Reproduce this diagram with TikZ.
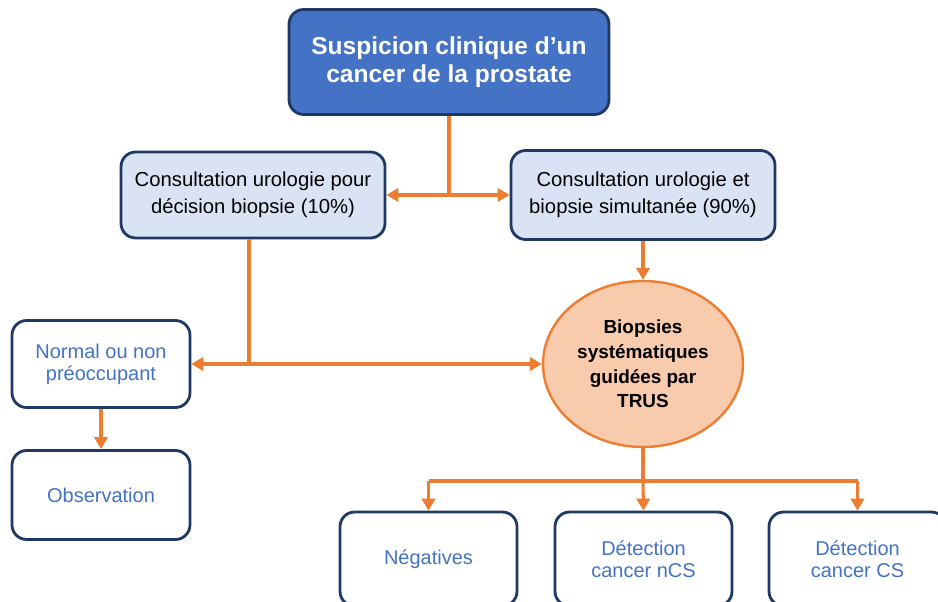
\documentclass[tikz,border=0pt]{standalone}
\usepackage{fontspec}
\setmainfont{Liberation Sans}
\usetikzlibrary{arrows.meta,shapes.geometric}
\definecolor{navy}{HTML}{1F3864}
\definecolor{topblue}{HTML}{4472C4}
\definecolor{lightblue}{HTML}{DAE3F3}
\definecolor{peach}{HTML}{F8CBAD}
\definecolor{orng}{HTML}{ED7D31}
\definecolor{txtblue}{HTML}{4472C4}
\tikzset{
  box/.style={draw=navy, line width=2.1pt, rounded corners=11pt, align=center, inner sep=0pt},
  topbox/.style={box, fill=topblue, text=white, font=\fontsize{18.4}{20.5}\selectfont\bfseries},
  consult/.style={box, fill=lightblue, text=black, font=\fontsize{15.2}{20}\selectfont},
  outbox/.style={box, fill=white, text=txtblue, font=\fontsize{15}{16.5}\selectfont},
  oval/.style={ellipse, draw=orng, line width=1.8pt, fill=peach, align=center, inner sep=0pt,
    font=\fontsize{14.2}{18.5}\selectfont\bfseries},
  conn/.style={draw=orng, line width=2.3pt},
  arr/.style={conn, -{Triangle[length=9pt,width=10pt]}},
}
\begin{document}
\begin{tikzpicture}[x=0.75pt,y=-0.75pt]
\useasboundingbox (0,0) rectangle (938,602);
\clip (0,0) rectangle (938,602);
\node[topbox, minimum width=320*0.75pt, minimum height=105*0.75pt] (top) at (449,62)
  {Suspicion clinique d’un\\cancer de la prostate};
\node[consult, minimum width=264*0.75pt, minimum height=86*0.75pt] (lc) at (253,195)
  {Consultation urologie pour\\décision biopsie (10\%)};
\node[consult, minimum width=264*0.75pt, minimum height=89*0.75pt] (rc) at (643,195)
  {Consultation urologie et\\biopsie simultanée (90\%)};
\node[oval, minimum width=200*0.75pt, minimum height=166*0.75pt] (bio) at (643,364)
  {Biopsies\\systématiques\\guidées par\\TRUS};
\node[outbox, minimum width=178*0.75pt, minimum height=87*0.75pt] (norm) at (101,364)
  {Normal ou non\\préoccupant};
\node[outbox, minimum width=178*0.75pt, minimum height=89*0.75pt] (obs) at (101,495)
  {Observation};
\node[outbox, minimum width=177*0.75pt, minimum height=94*0.75pt] (neg) at (428.5,559)
  {Négatives};
\node[outbox, minimum width=177*0.75pt, minimum height=94*0.75pt] (ncs) at (643.5,559)
  {Détection\\cancer nCS};
\node[outbox, minimum width=177*0.75pt, minimum height=94*0.75pt] (cs) at (857.5,559)
  {Détection\\cancer CS};
% connectors
\coordinate (j1) at (top.south |- lc.east);
\draw[conn] (top.south) -- (j1);
\draw[arr] (j1) -- (lc.east);
\draw[arr] (j1) -- (rc.west);
\draw[arr] (rc.south) -- (bio.north);
\coordinate (j2) at ([xshift=-4*0.75pt]lc.south |- norm.east);
\draw[conn] ([xshift=-4*0.75pt]lc.south) -- (j2);
\draw[arr] (j2) -- (norm.east);
\draw[arr] (j2) -- (bio.west);
\draw[arr] (norm.south) -- (obs.north);
\coordinate (j3) at (bio.south |- 0,481);
\draw[conn] (bio.south) -- (j3);
\draw[conn] (neg.north |- j3) -- (cs.north |- j3);
\draw[arr] (neg.north |- j3) -- (neg.north);
\draw[arr] (j3) -- (ncs.north);
\draw[arr] (cs.north |- j3) -- (cs.north);
\end{tikzpicture}
\end{document}
